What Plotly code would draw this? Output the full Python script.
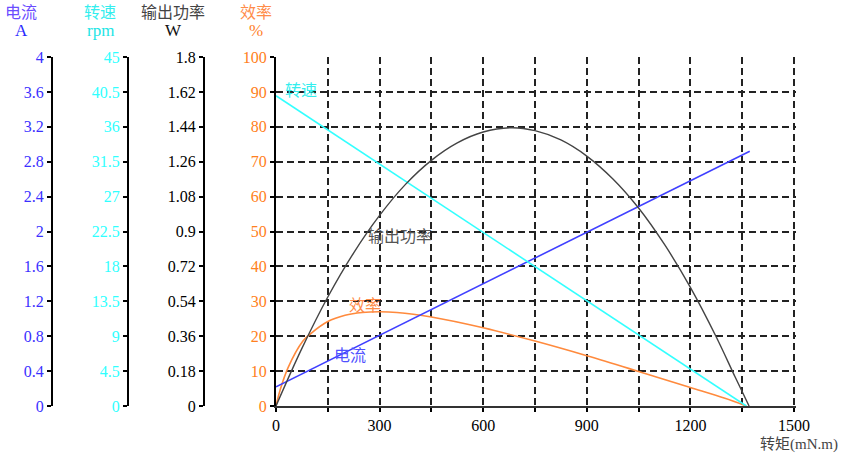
import plotly.graph_objects as go

# ---- data ----
torque_speed = [0, 1362]
speed_rpm = [40.0, 0.0]

torque_current = [0, 1372]
current_a = [0.22, 2.92]

torque_power = [0, 75, 150, 225, 300, 375, 450, 525, 600, 683, 750, 825, 900, 975, 1050, 1125, 1200, 1275, 1330, 1370]
power_w = [0, 0.297, 0.562, 0.790, 0.983, 1.143, 1.267, 1.357, 1.413, 1.435, 1.420, 1.372, 1.289, 1.172, 1.021, 0.833, 0.612, 0.356, 0.148, 0]

torque_eff = [0, 12, 35, 78, 100, 150, 200, 250, 300, 350, 450, 600, 750, 900, 1050, 1200, 1300, 1362]
eff_pct = [0, 4.6, 11.0, 18.6, 20.7, 24.2, 26.0, 26.8, 27.0, 26.8, 25.5, 22.4, 18.6, 14.4, 9.9, 5.3, 2.2, 0]

x_tickvals = [0, 150, 300, 450, 600, 750, 900, 1050, 1200, 1350, 1500]
x_ticktext = ["0", "", "300", "", "600", "", "900", "", "1200", "", "1500"]

eff_ticks = [0, 10, 20, 30, 40, 50, 60, 70, 80, 90, 100]
cur_ticks = [0, 0.4, 0.8, 1.2, 1.6, 2, 2.4, 2.8, 3.2, 3.6, 4]
cur_text = ["0", "0.4", "0.8", "1.2", "1.6", "2", "2.4", "2.8", "3.2", "3.6", "4"]
spd_ticks = [0, 4.5, 9, 13.5, 18, 22.5, 27, 31.5, 36, 40.5, 45]
spd_text = ["0", "4.5", "9", "13.5", "18", "22.5", "27", "31.5", "36", "40.5", "45"]
pow_ticks = [0, 0.18, 0.36, 0.54, 0.72, 0.9, 1.08, 1.26, 1.44, 1.62, 1.8]
pow_text = ["0", "0.18", "0.36", "0.54", "0.72", "0.9", "1.08", "1.26", "1.44", "1.62", "1.8"]

# ---- styles ----
W, H = 842, 455
FONT = "Liberation Serif, Noto Sans CJK SC"
BLUE = "#3a30ff"
ORANGE = "#ff8a3d"
DARK = "#444444"
TICK_SIZE = 16

def px(xp):
    return xp / W

def py(yp):
    return 1 - yp / H

fig = go.Figure()
fig.add_trace(go.Scatter(x=torque_speed, y=speed_rpm, mode="lines", yaxis="y3",
                         line=dict(color="#33ffff", width=1.6), showlegend=False))
fig.add_trace(go.Scatter(x=torque_power, y=power_w, mode="lines", yaxis="y4", line_shape="spline",
                         line=dict(color=DARK, width=1.4), showlegend=False))
fig.add_trace(go.Scatter(x=torque_eff, y=eff_pct, mode="lines", yaxis="y", line_shape="spline",
                         line=dict(color=ORANGE, width=1.6), showlegend=False))
fig.add_trace(go.Scatter(x=torque_current, y=current_a, mode="lines", yaxis="y2",
                         line=dict(color="#4040ff", width=1.6), showlegend=False))

y_dom = [py(406), py(57)]
common_left = dict(showgrid=False, zeroline=False, showline=True, linecolor="black", linewidth=2,
                   ticks="outside", ticklen=4, tickwidth=1.5, tickcolor="black", automargin=False,
                   overlaying="y", anchor="free", side="left", fixedrange=True)

fig.update_layout(
    width=W, height=H,
    margin=dict(l=0, r=0, t=0, b=0, pad=0, autoexpand=False),
    paper_bgcolor="white", plot_bgcolor="white",
    font=dict(family=FONT, size=14, color="black"),
    xaxis=dict(domain=[px(276), px(795.7)], range=[0, 1505], tickvals=x_tickvals, ticktext=x_ticktext,
               showgrid=True, gridcolor="#222222", gridwidth=1.5, griddash="7px,4px",
               zeroline=False, showline=True, linecolor="#333333", linewidth=2, automargin=False,
               ticks="outside", ticklen=4, tickwidth=1.5, tickcolor="black",
               tickfont=dict(family=FONT, size=TICK_SIZE, color="black"), fixedrange=True),
    yaxis=dict(domain=y_dom, range=[0, 100], tickvals=eff_ticks,
               showgrid=True, gridcolor="#222222", gridwidth=1.5, griddash="7px,4px",
               zeroline=False, showline=True, linecolor="black", linewidth=2, automargin=False,
               ticks="outside", ticklen=4, tickwidth=1.5, tickcolor="black",
               tickfont=dict(family=FONT, size=TICK_SIZE, color="#ff8020"), fixedrange=True),
    yaxis2=dict(range=[0, 4], tickvals=cur_ticks, ticktext=cur_text, position=px(52),
                tickfont=dict(family=FONT, size=TICK_SIZE, color=BLUE), **common_left),
    yaxis3=dict(range=[0, 45], tickvals=spd_ticks, ticktext=spd_text, position=px(128),
                tickfont=dict(family=FONT, size=TICK_SIZE, color="#30ffff"), **common_left),
    yaxis4=dict(range=[0, 1.8], tickvals=pow_ticks, ticktext=pow_text, position=px(204),
                tickfont=dict(family=FONT, size=TICK_SIZE, color="black"), **common_left),
)

anns = []
# header titles
headers = [(21, "电流", "#6a4cff", "A", "#2a2aff"),
           (100, "转速", "#33eeee", "rpm", "#22e5e5"),
           (173, "输出功率", "#444444", "W", "#111111"),
           (256, "效率", "#ff8c4a", "%", "#ff7f2a")]
for xc, t1, c1, t2, c2 in headers:
    anns.append(dict(x=px(xc), y=py(12), xref="paper", yref="paper", text=t1, showarrow=False,
                     xanchor="center", yanchor="middle", font=dict(family=FONT, size=16, color=c1)))
    anns.append(dict(x=px(xc), y=py(31), xref="paper", yref="paper", text=t2, showarrow=False,
                     xanchor="center", yanchor="middle", font=dict(family=FONT, size=17, color=c2)))
# curve labels
curve_labels = [(72, 90.5, "转速", "#33eeee"),
                (360, 48.5, "输出功率", "#555555"),
                (258, 28.8, "效率", "#ff8c4a"),
                (215, 14.5, "电流", "#5050ff")]
for x, y, t, c in curve_labels:
    anns.append(dict(x=x, y=y, xref="x", yref="y", text=t, showarrow=False,
                     xanchor="center", yanchor="middle", font=dict(family=FONT, size=16, color=c)))
# x axis title
anns.append(dict(x=px(840), y=py(444), xref="paper", yref="paper", text="转矩(mN.m)", showarrow=False,
                 xanchor="right", yanchor="middle", font=dict(family=FONT, size=15, color="#444444")))
fig.update_layout(annotations=anns)

fig.write_html("out.html", config={"displayModeBar": False},
               post_script="document.body.style.margin='0';document.body.style.overflow='hidden';")
